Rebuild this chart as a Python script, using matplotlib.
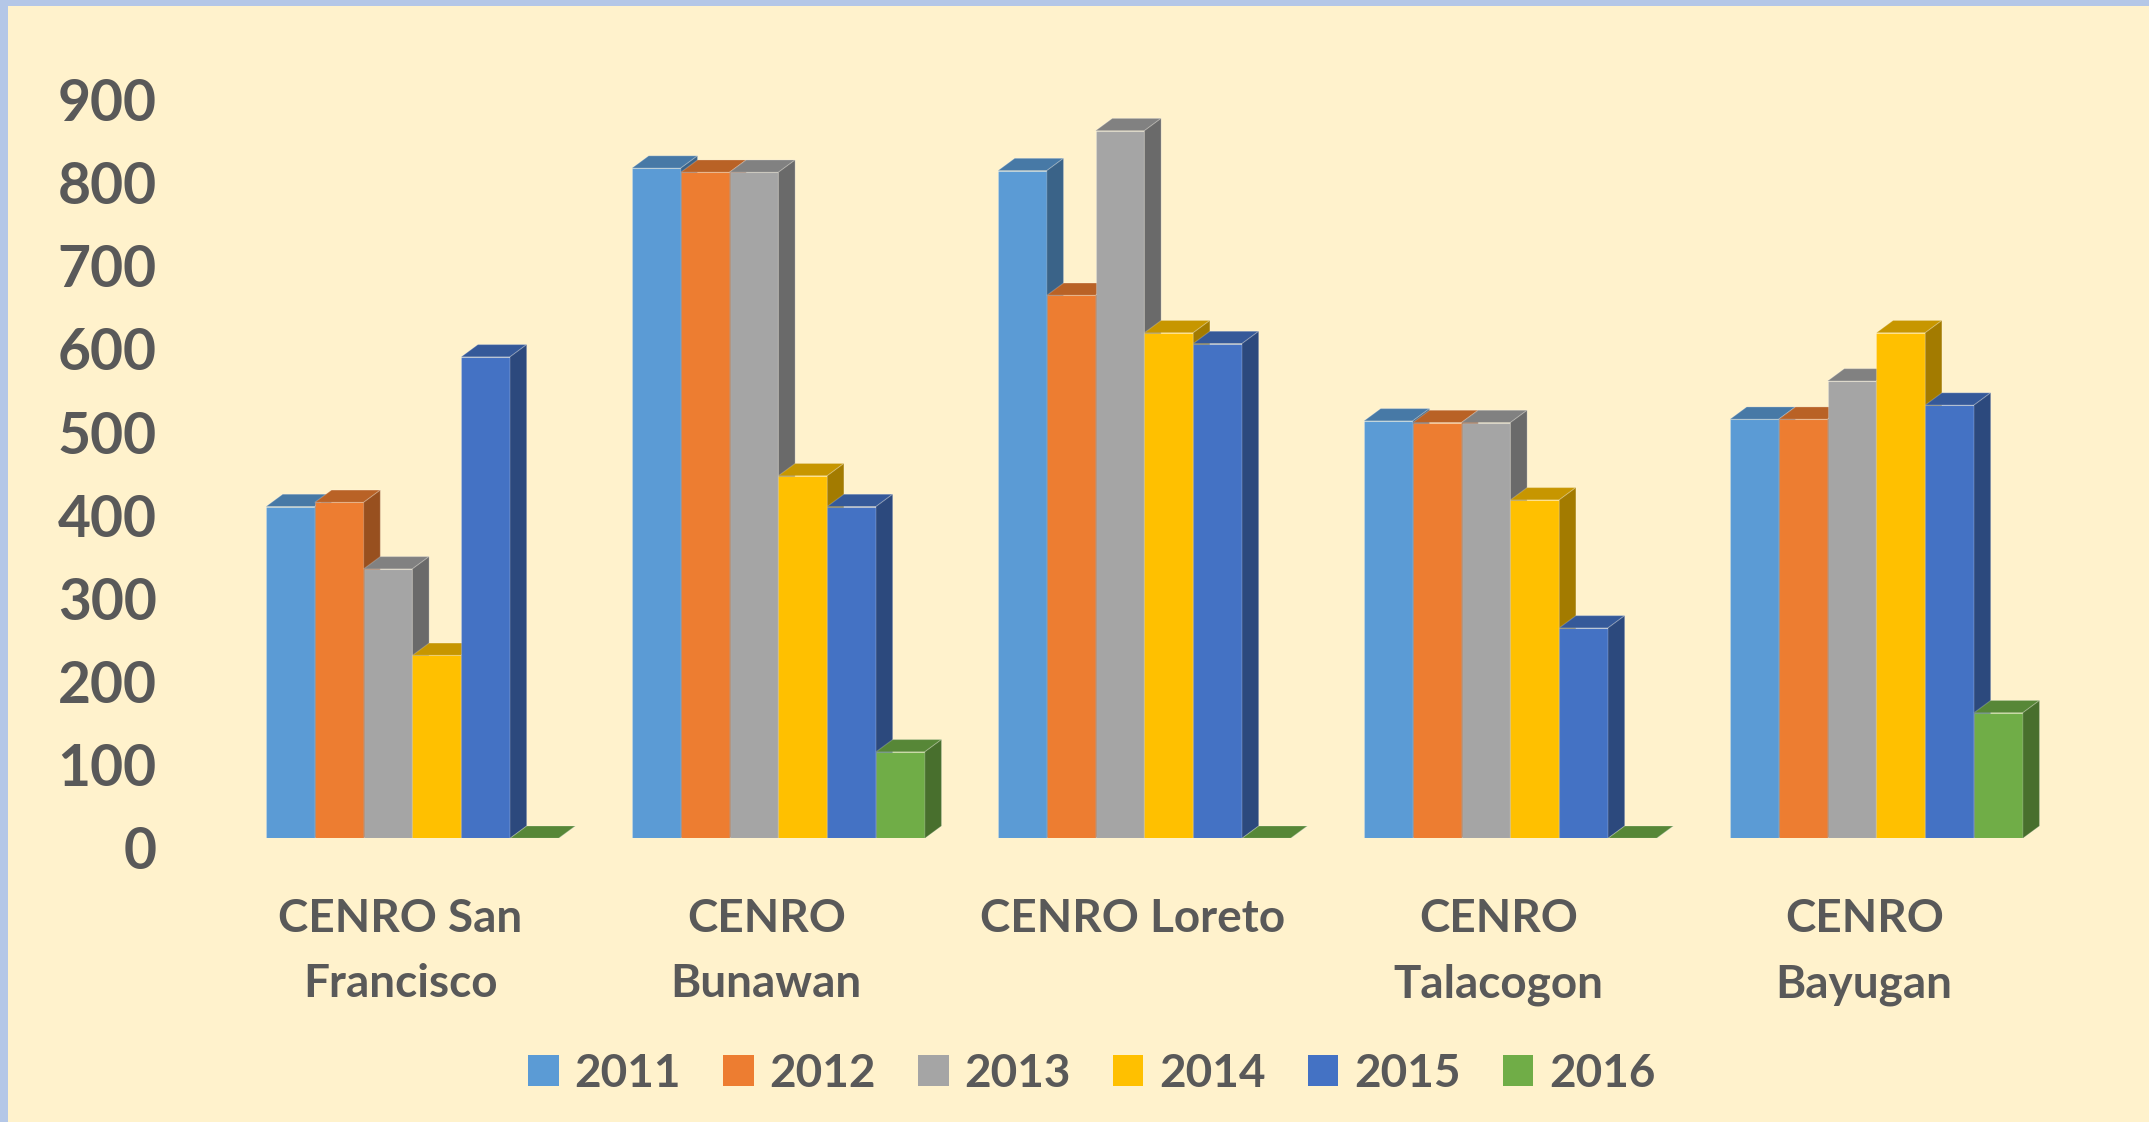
import matplotlib
matplotlib.use('Agg')
import matplotlib.pyplot as plt
import matplotlib.colors as mcolors
from matplotlib.patches import Patch, Rectangle
from matplotlib.transforms import blended_transform_factory, ScaledTranslation

plt.rcParams['font.family'] = ['Lato', 'DejaVu Sans']

# data
offices = ['CENRO San\nFrancisco', 'CENRO\nBunawan', 'CENRO Loreto', 'CENRO\nTalacogon', 'CENRO\nBayugan']
years = ['2011', '2012', '2013', '2014', '2015', '2016']
v2011 = [399, 806, 803, 502, 504]
v2012 = [404, 801, 653, 500, 504]
v2013 = [324, 801, 851, 500, 550]
v2014 = [220, 436, 608, 407, 608]
v2015 = [579, 399, 595, 253, 521]
v2016 = [0, 104, 0, 0, 151]
yticks = [0, 100, 200, 300, 400, 500, 600, 700, 800, 900]

series = [v2011, v2012, v2013, v2014, v2015, v2016]
colors = ['#5B9BD5', '#ED7D31', '#A5A5A5', '#FFC000', '#4472C4', '#70AD47']
bg = '#FFF2CC'
txt = '#595959'

W, H, DPI = 2149, 1122, 100
bar_px = 48.8          # pixel width of one bar
val_px = 0.8315        # pixels per unit value
group = 7.5            # group pitch in bar widths
dx = 16.7 / bar_px     # depth offset (x, bar units)
dy = 12.3 / val_px     # depth offset (y, value units)


def shade(c, f):
    r, g, b = mcolors.to_rgb(c)
    return (r * f, g * f, b * f)


fig = plt.figure(figsize=(W / DPI, H / DPI), dpi=DPI, facecolor=bg)
x_left_px = 266 - 0.75 * bar_px
ax = fig.add_axes([x_left_px / W, (H - 838.3) / H, 37.75 * bar_px / W, 950 * val_px / H])
ax.set_xlim(-0.75, 37)
ax.set_ylim(0, 950)
ax.axis('off')

edge = (1, 1, 1, 0.2)
for i in range(len(offices)):
    for j, (vals, col) in enumerate(zip(series, colors)):
        x0 = i * group + j
        h = vals[i]
        ax.bar(x0, h, width=1, align='edge', color=col, edgecolor=edge, linewidth=0.8)
        ax.fill([x0, x0 + 1, x0 + 1 + dx, x0 + dx], [h, h, h + dy, h + dy],
                facecolor=shade(col, 0.78), edgecolor=edge, linewidth=0.8)
        ax.fill([x0 + 1, x0 + 1 + dx, x0 + 1 + dx, x0 + 1], [0, dy, h + dy, h],
                facecolor=shade(col, 0.64), edgecolor=edge, linewidth=0.8)

# value axis labels
ytrans = blended_transform_factory(fig.transFigure, ax.transData) + \
    ScaledTranslation(0, -31.1 / DPI, fig.dpi_scale_trans)
for v in yticks:
    ax.text(156.7 / W, v, str(v), transform=ytrans, ha='right', va='baseline',
            fontsize=41, fontweight='bold', color=txt)

# category labels
ctrans = blended_transform_factory(ax.transData, fig.transFigure)
for i, name in enumerate(offices):
    for k, line in enumerate(name.split('\n')):
        ax.text(i * group + 3 - 0.25, 1 - (932 + 65 * k) / H, line, transform=ctrans,
                ha='center', va='baseline', fontsize=33, fontweight='bold', color=txt)

handles = [Patch(facecolor=c, edgecolor='none', label=y) for c, y in zip(colors, years)]
leg = fig.legend(handles=handles, loc='center', bbox_to_anchor=(1092 / W, 1 - 1074 / H),
                 ncol=6, frameon=False, fontsize=33, handlelength=0.66, handleheight=0.66,
                 handletextpad=0.35, columnspacing=0.92, borderpad=0)
for t in leg.get_texts():
    t.set_color(txt)
    t.set_fontweight('bold')

# light blue border on left and top
fig.patches.append(Rectangle((0, 0), 8 / W, 1, transform=fig.transFigure,
                             facecolor='#B4C7E7', edgecolor='none'))
fig.patches.append(Rectangle((0, 1 - 6 / H), 1, 6 / H, transform=fig.transFigure,
                             facecolor='#B4C7E7', edgecolor='none'))

fig.savefig('out.png', dpi=DPI, facecolor=bg)
